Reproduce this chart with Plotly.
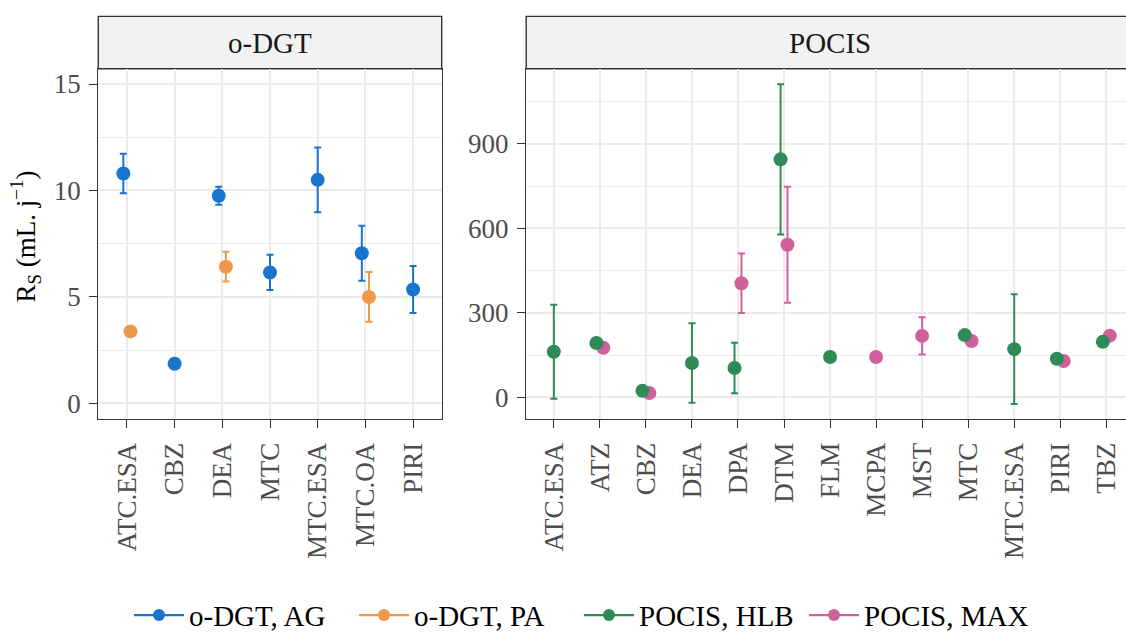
import plotly.graph_objects as go

# ---------------- data ----------------
odgt_cats = ["ATC.ESA", "CBZ", "DEA", "MTC", "MTC.ESA", "MTC.OA", "PIRI"]
odgt_ag = [10.8, 1.86, 9.75, 6.15, 10.5, 7.05, 5.35]
odgt_ag_sd = [0.93, None, 0.42, 0.83, 1.52, 1.29, 1.1]
odgt_pa = [3.38, None, 6.42, None, None, 5.0, None]
odgt_pa_sd = [None, None, 0.7, None, None, 1.17, None]

pocis_cats = ["ATC.ESA", "ATZ", "CBZ", "DEA", "DPA", "DTM", "FLM", "MCPA",
              "MST", "MTC", "MTC.ESA", "PIRI", "TBZ"]
pocis_hlb = [162, 193, 23, 122, 104, 845, 143, None, None, 221, 171, 137, 197]
pocis_hlb_sd = [167, None, None, 141, 90, 267, None, None, None, None, 195, None, None]
pocis_max = [None, 176, 15, None, 405, 542, None, 143, 218, 200, None, 129, 219]
pocis_max_sd = [None, None, None, None, 106, 206, None, None, 66, None, None, None, None]

series_names = ["o-DGT, AG", "o-DGT, PA", "POCIS, HLB", "POCIS, MAX"]
series_colors = ["#1874CD", "#F0984A", "#2E8B57", "#D0609A"]

odgt_yrange = [-0.72, 15.72]
pocis_yrange = [-76, 1167]

# ---------------- layout geometry (pixels) ----------------
W, H = 1126, 641
L_LEFT, L_RIGHT = 98.3, 441.7
R_LEFT = 526.2
R_STEP = 46.04
P_TOP, P_BOT = 70.0, 426.7
S_TOP = 16.7
FONT = "Liberation Serif"
TICKCOL = "#4D4D4D"
BORDER = "#333333"


def fx(p):
    return p / W


def fy(p):
    return 1 - p / H


def dodge(series, width=0.3):
    out = [[None] * len(s) for s in series]
    for i in range(len(series[0])):
        present = [k for k in range(len(series)) if series[k][i] is not None]
        n = len(present)
        for j, k in enumerate(present):
            out[k][i] = i + (j - (n - 1) / 2) * width / n
    return out


fig = go.Figure()

odgt_x = dodge([odgt_ag, odgt_pa])
pocis_x = dodge([pocis_hlb, pocis_max])


def add_points(x, y, sd, color, xa, ya):
    fig.add_trace(go.Scatter(
        x=x, y=y, mode="markers", xaxis=xa, yaxis=ya, showlegend=False,
        marker=dict(color=color, size=14),
        error_y=dict(type="data", array=sd, visible=True, color=color,
                     thickness=2, width=3.5),
        hoverinfo="skip"))


add_points(odgt_x[0], odgt_ag, odgt_ag_sd, series_colors[0], "x", "y")
add_points(odgt_x[1], odgt_pa, odgt_pa_sd, series_colors[1], "x", "y")
add_points(pocis_x[1], pocis_max, pocis_max_sd, series_colors[3], "x2", "y2")
add_points(pocis_x[0], pocis_hlb, pocis_hlb_sd, series_colors[2], "x2", "y2")

# legend entries (line + dot keys)
for name, col in zip(series_names, series_colors):
    fig.add_trace(go.Scatter(
        x=[None], y=[None], mode="lines+markers", name=name,
        xaxis="x", yaxis="y",
        line=dict(color=col, width=2.2), marker=dict(color=col, size=12)))

axis_common = dict(
    showline=True, linecolor=BORDER, linewidth=1.4,
    ticks="outside", ticklen=8, tickwidth=1.4, tickcolor=BORDER,
    tickfont=dict(family=FONT, size=27, color=TICKCOL),
    showgrid=True, gridcolor="#EBEBEB", gridwidth=1.8, zeroline=False,
)

r_xmax = (W - R_LEFT) / R_STEP - 0.6

fig.update_layout(
    width=W, height=H,
    margin=dict(l=0, r=0, t=0, b=0),
    paper_bgcolor="white", plot_bgcolor="white",
    font=dict(family=FONT, size=27, color="black"),
    xaxis=dict(domain=[fx(L_LEFT), fx(L_RIGHT)], range=[-0.6, len(odgt_cats) - 0.4],
               tickvals=list(range(len(odgt_cats))), ticktext=odgt_cats,
               tickangle=-90, mirror=True, anchor="y", ticklabelstandoff=4,
               **axis_common),
    yaxis=dict(domain=[fy(P_BOT), fy(P_TOP)], range=odgt_yrange,
               tickvals=[0, 5, 10, 15], mirror=True, anchor="x", ticklabelstandoff=3,
               minor=dict(tickvals=[2.5, 7.5, 12.5], showgrid=True,
                          gridcolor="#EBEBEB", gridwidth=0.9, ticks=""),
               **axis_common),
    xaxis2=dict(domain=[fx(R_LEFT), 1.0], range=[-0.6, r_xmax],
                tickvals=list(range(len(pocis_cats))), ticktext=pocis_cats,
                tickangle=-90, mirror=True, anchor="y2", ticklabelstandoff=4,
                **axis_common),
    yaxis2=dict(domain=[fy(P_BOT), fy(P_TOP)], range=pocis_yrange,
                tickvals=[0, 300, 600, 900], mirror=False, anchor="x2",
                ticklabelstandoff=3,
                minor=dict(tickvals=[150, 450, 750, 1050], showgrid=True,
                           gridcolor="#EBEBEB", gridwidth=0.9, ticks=""),
                **axis_common),
    legend=dict(orientation="h", x=fx(579), xanchor="center", y=fy(627),
                yanchor="middle", font=dict(family=FONT, size=29, color="black"),
                itemwidth=50, entrywidth=160,
                bgcolor="rgba(0,0,0,0)"),
    showlegend=True,
)

# strips
fig.add_shape(type="rect", xref="paper", yref="paper",
              x0=fx(L_LEFT), x1=fx(L_RIGHT), y0=fy(P_TOP), y1=fy(S_TOP),
              fillcolor="#F2F2F2", line=dict(color=BORDER, width=1.4), layer="below")
fig.add_shape(type="rect", xref="paper", yref="paper",
              x0=fx(R_LEFT), x1=1.02, y0=fy(P_TOP), y1=fy(S_TOP),
              fillcolor="#F2F2F2", line=dict(color=BORDER, width=1.4), layer="below")

strip_y = fy((S_TOP + P_TOP) / 2)
fig.add_annotation(text="o-DGT", xref="x", yref="paper", x=(len(odgt_cats) - 1) / 2,
                   y=strip_y, showarrow=False, xanchor="center", yanchor="middle",
                   font=dict(family=FONT, size=29, color="#1A1A1A"))
fig.add_annotation(text="POCIS", xref="x2", yref="paper", x=(len(pocis_cats) - 1) / 2,
                   y=strip_y, showarrow=False, xanchor="center", yanchor="middle",
                   font=dict(family=FONT, size=29, color="#1A1A1A"))

# y axis title
fig.add_annotation(text="R<sub>S</sub> (mL. j<sup>−1</sup>)", xref="paper", yref="paper",
                   x=fx(26), y=fy(241), textangle=-90, showarrow=False,
                   xanchor="center", yanchor="middle",
                   font=dict(family=FONT, size=27, color="black"))

fig.write_html(
    "out.html",
    config={"displayModeBar": False},
    post_script="document.body.style.margin='0';"
                "document.body.style.overflow='hidden';"
                "document.documentElement.style.overflow='hidden';",
)
